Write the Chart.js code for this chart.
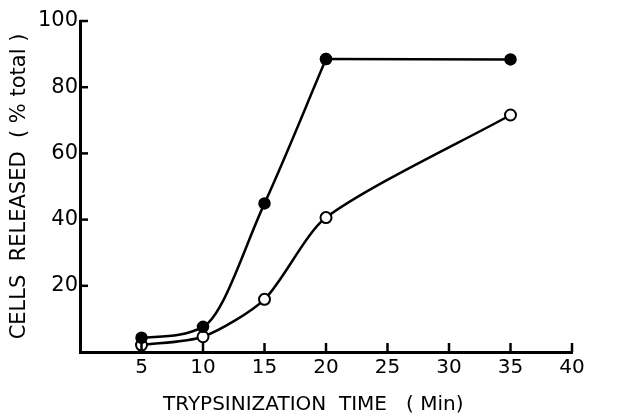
<!DOCTYPE html>
<html><head><meta charset="utf-8">
<script src="https://cdn.jsdelivr.net/npm/chart.js@4"></script>
<style>html,body{margin:0;padding:0;background:#fff}#wrap{width:617px;height:419px}</style>
</head><body><div id="wrap"><canvas id="c" width="617" height="419"></canvas></div>
<script>
const times = [5, 10, 15, 20, 35];
const filledValues = [4.3, 7.6, 44.9, 88.5, 88.4];
const openValues = [2.1, 4.6, 15.9, 40.6, 71.6];
const xTickLabels = [5, 10, 15, 20, 25, 30, 35, 40];
const yTickLabels = [20, 40, 60, 80, 100];
const xTitle = 'TRYPSINIZATION  TIME   ( Min)    ';
const yTitle = 'CELLS  RELEASED  ( % total )';

const pts = (xs, ys) => xs.map((t, i) => ({x: t, y: ys[i]}));
// filled series: smooth rise (5–20 min) then straight plateau (20–35 min)
const filledRise = pts(times.slice(0, 4), filledValues.slice(0, 4));
const filledPlateau = pts(times.slice(3), filledValues.slice(3));

const inwardTicks = {
  id: 'inwardTicks',
  afterDraw(chart) {
    const ctx = chart.ctx, x = chart.scales.x, y = chart.scales.y;
    const a = chart.chartArea;
    ctx.save();
    ctx.strokeStyle = '#000';
    ctx.lineWidth = 2.5;
    xTickLabels.forEach(v => {
      const px = x.getPixelForValue(v);
      ctx.beginPath(); ctx.moveTo(px, a.bottom); ctx.lineTo(px, a.bottom - 9); ctx.stroke();
    });
    yTickLabels.forEach(v => {
      const py = y.getPixelForValue(v);
      ctx.beginPath(); ctx.moveTo(a.left, py); ctx.lineTo(a.left + 8, py); ctx.stroke();
    });
    ctx.restore();
  }
};

const font = "'DejaVu Sans', sans-serif";
const filledStyle = {
  borderColor: '#000', borderWidth: 2.5,
  pointBackgroundColor: '#000', pointBorderColor: '#000',
  pointRadius: 5.5, pointBorderWidth: 1.5, fill: false
};
new Chart(document.getElementById('c'), {
  type: 'line',
  data: {
    datasets: [
      Object.assign({data: filledPlateau, tension: 0}, filledStyle),
      Object.assign({data: filledRise, cubicInterpolationMode: 'monotone'}, filledStyle),
      {
        data: pts(times, openValues),
        borderColor: '#000', borderWidth: 2.5,
        pointBackgroundColor: '#fff', pointBorderColor: '#000',
        pointRadius: 5.5, pointBorderWidth: 2,
        tension: 0.25, fill: false
      }
    ]
  },
  options: {
    responsive: false, animation: false, devicePixelRatio: 1,
    layout: {padding: {top: 21, right: 45, left: 0, bottom: 0}},
    plugins: {legend: {display: false}, tooltip: {enabled: false}},
    scales: {
      x: {
        type: 'linear', min: 0, max: 40,
        afterFit(s) { s.height = 67; },
        border: {display: true, color: '#000', width: 3},
        grid: {display: false, drawTicks: false},
        ticks: {
          stepSize: 5, padding: 4, color: '#000',
          font: {family: font, size: 20},
          callback: v => xTickLabels.includes(v) ? String(v) : ''
        },
        title: {display: true, text: xTitle, color: '#000',
          font: {family: font, size: 20}, padding: {top: 0, bottom: 2}}
      },
      y: {
        type: 'linear', min: 0, max: 100,
        afterFit(s) { s.width = 80; },
        border: {display: true, color: '#000', width: 3},
        grid: {display: false, drawTicks: false},
        ticks: {
          stepSize: 20, padding: 2, color: '#000',
          font: {family: font, size: 21},
          callback: v => yTickLabels.includes(v) ? String(v) : ''
        },
        title: {display: true, text: yTitle, color: '#000',
          font: {family: font, size: 21}, padding: {top: 7, bottom: 0}}
      }
    }
  },
  plugins: [inwardTicks]
});
</script></body></html>
